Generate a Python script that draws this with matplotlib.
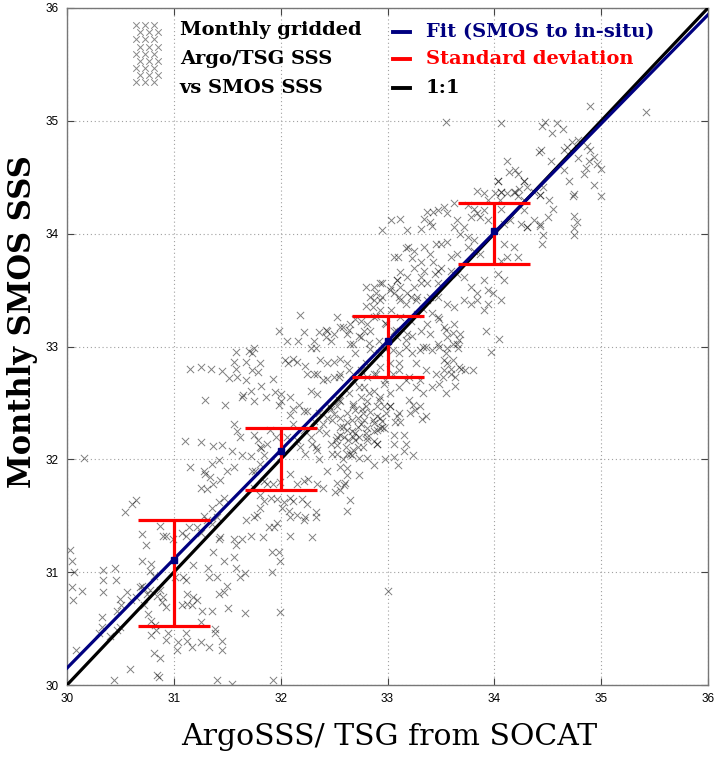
import numpy as np
import matplotlib
matplotlib.use("Agg")
import matplotlib.pyplot as plt

# scatter points (in-situ SSS, SMOS SSS), grouped by region
pts_low = [
    (30.03, 31.2), (30.05, 31.1), (30.07, 31.0), (30.05, 30.87), (30.06, 30.75),
    (30.14, 30.83), (30.08, 30.31), (30.34, 31.02), (30.45, 31.04), (30.34, 30.93), (30.46, 30.93), (30.34, 30.82),
    (30.5, 30.76), (30.51, 30.71), (30.47, 30.66), (30.33, 30.6), (30.33, 30.51), (30.3, 30.46), (30.4, 30.43),
    (30.47, 30.49), (30.5, 30.51), (30.56, 30.82), (30.6, 30.75), (30.65, 30.78), (30.68, 30.87), (30.7, 30.88),
    (30.72, 30.85), (30.54, 31.53), (30.61, 31.6), (30.65, 31.64), (30.7, 31.34), (30.74, 31.24),
    (30.7, 31.1), (30.79, 31.07), (30.78, 31.01), (30.81, 30.97), (30.72, 30.71), (30.76, 30.63), (30.79, 30.57),
    (30.82, 30.53), (30.75, 30.81), (30.78, 30.84), (30.84, 30.79), (30.87, 30.84), (30.9, 30.78), (30.89, 30.74),
    (30.93, 30.69), (30.59, 30.14), (30.84, 30.09), (30.86, 30.07), (30.44, 30.04), (30.81, 30.28), (30.87, 30.24),
    (30.79, 30.44), (30.83, 30.49), (30.93, 30.4), (30.95, 30.46), (30.87, 31.41), (30.9, 31.32), (30.93, 31.32),
    (30.99, 31.29), (31.08, 31.35), (31.11, 31.32), (31.14, 31.4), (31.22, 31.4), (31.25, 31.35),
    (31.1, 32.16), (31.25, 32.15), (31.37, 32.12), (31.45, 32.13), (31.15, 31.93), (31.28, 31.9), (31.29, 31.87),
    (31.34, 31.84), (31.25, 31.75), (31.31, 31.74), (31.37, 31.78), (31.43, 31.82), (31.36, 31.96), (31.42, 31.99),
    (31.5, 31.9), (31.56, 31.93), (31.47, 31.66), (31.42, 31.62), (31.36, 31.57), (31.28, 31.5), (31.31, 31.46),
    (31.36, 31.43), (31.4, 31.49), (31.43, 31.31), (31.42, 31.29), (31.56, 31.29), (31.58, 31.24), (31.64, 31.29),
    (31.18, 31.06), (31.32, 31.04), (31.4, 30.96), (31.33, 30.96), (31.37, 31.18), (31.47, 31.1), (31.56, 31.13),
    (31.58, 31.04), (31.67, 30.99), (31.62, 30.96), (31.09, 30.96), (31.11, 30.93), (31.01, 30.96),
    (31.12, 30.81), (31.18, 30.78), (31.22, 30.75), (31.17, 30.71), (31.12, 30.72), (31.08, 30.71),
    (31.26, 30.66), (31.36, 30.66), (31.25, 30.56), (31.39, 30.5), (31.42, 30.81), (31.47, 30.82), (31.5, 30.88),
    (31.51, 30.68), (31.67, 30.64), (31.11, 30.46), (31.12, 30.39), (31.04, 30.38), (31.03, 30.31), (31.17, 30.34),
    (31.25, 30.38), (31.33, 30.34), (31.45, 30.39), (31.45, 30.31), (31.39, 30.46),
    (31.4, 30.04), (31.54, 30.01), (31.93, 30.04), (31.99, 30.65),
    (31.92, 31.0), (31.99, 31.1), (31.98, 31.18), (31.92, 31.18), (31.75, 31.49), (31.78, 31.51), (31.83, 31.31),
    (31.94, 31.4), (31.97, 31.44), (31.89, 31.4), (31.72, 31.32), (31.68, 31.46), (31.81, 31.57), (31.91, 31.66),
    (31.84, 31.63), (31.81, 31.68), (32.09, 31.32), (32.09, 31.49), (32.15, 31.51), (32.23, 31.49), (32.29, 31.31),
    (32.22, 31.46), (32.2, 31.65), (32.25, 31.6), (32.33, 31.53), (32.33, 31.49), (31.97, 31.65), (32.03, 31.62),
    (32.09, 31.66), (32.12, 31.63), (32.01, 31.57), (32.08, 31.54),
    (31.73, 31.9), (31.76, 31.9), (31.81, 31.96), (31.87, 31.78), (31.75, 31.75), (31.84, 31.81), (31.93, 31.78),
    (31.99, 31.8), (32.09, 31.87), (32.15, 31.78), (32.22, 31.81), (32.26, 31.83), (32.34, 31.78), (32.4, 31.75),
    (32.43, 31.9), (30.16, 32.01),
]

pts_mid = [
    (31.98, 33.14), (31.58, 32.95), (31.7, 32.96), (31.75, 32.99), (31.73, 32.94),
    (32.04, 32.88), (32.12, 32.89), (32.07, 32.85), (32.15, 32.86), (32.23, 32.83), (32.25, 32.76), (32.31, 32.76),
    (32.34, 32.76), (32.37, 32.88), (32.43, 32.85), (32.5, 32.86), (32.56, 32.89), (32.62, 32.85),
    (32.84, 32.98), (32.97, 32.99), (32.33, 32.99), (32.28, 32.99),
    (31.56, 32.86), (31.68, 32.86), (31.81, 32.85), (31.73, 32.79), (31.79, 32.77), (31.58, 32.8), (31.59, 32.73),
    (31.52, 32.72), (31.68, 32.7), (31.82, 32.65), (31.72, 32.61), (31.65, 32.57), (31.64, 32.55), (31.75, 32.52),
    (31.86, 32.55), (31.93, 32.71), (31.95, 32.6), (32.0, 32.58), (32.0, 32.52), (31.98, 32.48),
    (32.09, 32.55), (32.17, 32.48), (32.12, 32.45), (32.22, 32.43), (32.28, 32.61), (32.34, 32.58), (32.4, 32.7),
    (32.43, 32.71), (32.5, 32.73), (32.56, 32.76), (32.68, 32.7), (32.75, 32.79), (32.81, 32.73), (32.87, 32.76),
    (32.93, 32.82), (31.56, 32.31), (31.59, 32.25), (31.62, 32.2), (31.75, 32.22), (31.79, 32.17), (31.81, 32.11),
    (31.9, 32.26), (31.87, 32.14), (31.96, 32.2), (31.54, 32.07), (31.64, 32.04), (31.72, 32.03), (31.84, 32.04),
    (31.82, 32.1), (32.09, 32.39), (32.12, 32.31), (32.06, 32.2), (32.15, 32.17), (32.18, 32.11), (32.22, 32.26),
    (32.28, 32.2), (32.29, 32.14), (32.34, 32.08), (32.36, 32.26),
    (32.5, 32.4), (32.56, 32.37), (32.62, 32.33), (32.67, 32.25), (32.72, 32.37), (32.75, 32.31), (32.81, 32.28),
    (32.87, 32.25), (32.93, 32.37), (32.97, 32.28), (32.9, 32.14), (32.81, 32.17), (32.68, 32.2), (32.72, 32.11),
    (32.56, 32.22), (32.47, 32.14), (32.62, 32.05), (32.53, 32.05), (32.4, 32.31),
    (32.81, 32.52), (32.87, 32.61), (32.93, 32.55), (32.75, 32.55), (32.68, 32.49), (32.78, 32.64), (32.97, 32.67),
    (32.9, 32.47), (32.97, 32.47), (32.47, 32.45), (32.56, 32.52), (32.43, 32.37), (32.31, 32.34), (32.25, 32.43),
    (32.95, 34.03), (32.87, 33.53), (32.93, 33.56), (32.84, 33.44), (32.93, 33.41), (32.93, 33.32), (32.87, 33.26),
    (32.99, 33.2), (32.53, 33.26), (32.43, 33.14), (32.36, 33.13), (32.42, 33.08), (32.56, 33.17), (32.62, 33.11),
    (32.65, 33.02), (32.75, 33.08), (32.78, 33.14), (32.81, 33.2), (32.18, 33.28), (32.22, 33.13), (32.16, 33.05),
    (32.31, 33.05), (32.47, 33.05), (32.06, 33.05), (32.42, 33.15), (32.5, 33.11), (32.58, 33.17), (32.65, 33.2),
    (32.75, 33.23), (32.84, 33.14), (32.92, 33.05), (32.68, 33.02), (32.87, 33.41), (32.95, 33.44), (32.86, 33.35),
    (31.15, 32.8), (31.25, 32.82), (31.35, 32.8), (31.45, 32.78), (31.29, 32.53), (31.48, 32.48),
]

pts_core = [
    # x 32.5-34, y 31-32.5
    (32.53, 32.47), (32.62, 32.41), (32.68, 32.47), (32.7, 32.44), (32.76, 32.45), (32.8, 32.47), (32.84, 32.42),
    (32.9, 32.38), (32.95, 32.34), (32.93, 32.28), (32.87, 32.32), (32.78, 32.35), (32.72, 32.29), (32.7, 32.23),
    (32.62, 32.26), (32.56, 32.29), (32.53, 32.2), (32.59, 32.2), (32.53, 32.13), (32.63, 32.17), (32.73, 32.2),
    (32.81, 32.2), (32.87, 32.16), (32.9, 32.14), (32.77, 32.11), (32.68, 32.08), (32.65, 32.05), (32.9, 32.26),
    (32.99, 32.41), (33.02, 32.47), (33.09, 32.38), (33.12, 32.33), (33.07, 32.33),
    (33.21, 32.41), (33.26, 32.44), (33.32, 32.36), (33.24, 32.48), (33.06, 32.22), (33.15, 32.22), (33.06, 32.14),
    (33.17, 32.14), (33.15, 32.07), (33.24, 32.04), (33.06, 32.02), (32.98, 32.0), (33.1, 31.95), (32.87, 31.95),
    (32.81, 32.01), (32.73, 32.01), (32.67, 32.04),
    (32.56, 31.93), (32.62, 31.92), (32.62, 31.86), (32.73, 31.86), (32.6, 31.79), (32.56, 31.73), (32.51, 31.71),
    (32.53, 31.79), (32.65, 31.64), (32.62, 31.54), (32.59, 31.77), (33.0, 30.83),
    # x 33-33.8, y 32.4-33
    (33.05, 32.97), (33.11, 32.94), (33.17, 33.0), (33.23, 32.94), (33.3, 32.97), (33.36, 33.0), (33.42, 32.97),
    (33.48, 33.0), (33.55, 32.94), (33.61, 32.88), (33.67, 32.82), (33.73, 32.79), (33.52, 32.73), (33.45, 32.76),
    (33.36, 32.79), (33.27, 32.85), (33.11, 32.85), (33.05, 32.76), (33.17, 32.7), (33.27, 32.64), (33.33, 32.59),
    (33.42, 32.64), (33.48, 32.67), (33.55, 32.59), (33.11, 32.64), (33.02, 32.59), (33.2, 32.53), (33.3, 32.47),
    (33.36, 32.38),
    (33.53, 32.88), (33.59, 32.8), (33.63, 32.73), (33.69, 32.8), (33.8, 32.79), (33.53, 32.79), (33.59, 32.76),
    (33.63, 32.65), (33.56, 32.85), (33.66, 32.99), (33.56, 32.99), (33.61, 33.02), (33.97, 32.95),
]

pts_band = [
    # extra points along the dense diagonal band, x 32.2-33.7
    (32.8, 33.53), (32.89, 33.47), (32.95, 33.56), (33.02, 33.5), (33.11, 33.44), (33.17, 33.38), (33.27, 33.41),
    (33.33, 33.33), (33.42, 33.3), (33.48, 33.24), (33.55, 33.15), (33.61, 33.12), (33.67, 33.06),
    (32.8, 33.36), (32.89, 33.27), (32.98, 33.21), (33.08, 33.15), (33.17, 33.06), (33.23, 33.09), (33.33, 33.0),
    (32.7, 33.24), (32.64, 33.15), (32.73, 33.09), (32.83, 33.03), (32.92, 32.94), (33.02, 32.85), (33.11, 32.79),
    (33.2, 32.73), (33.3, 32.7), (32.7, 32.94), (32.8, 32.85), (32.89, 32.76), (32.98, 32.7), (32.64, 32.79),
    (32.55, 32.73), (32.73, 32.64), (32.83, 32.59), (32.92, 32.53), (33.02, 32.47), (33.11, 32.41), (32.64, 32.59),
    (32.55, 32.53), (32.45, 32.47), (32.36, 32.41), (32.48, 32.35), (32.58, 32.29), (32.67, 32.35), (32.77, 32.41),
    (32.86, 32.35), (32.95, 32.29), (32.42, 32.23), (32.52, 32.17), (32.61, 32.11), (32.7, 32.17), (32.8, 32.23),
    (32.33, 32.11), (32.23, 32.05), (32.36, 32.0), (32.48, 32.05), (32.58, 32.0),
]

pts_high = [
    # x 33-34.5, y 33-34.5
    (34.03, 34.47), (34.28, 34.47), (34.01, 34.36), (34.06, 34.37), (34.12, 34.36), (34.18, 34.37), (34.22, 34.33),
    (34.31, 34.41), (34.37, 34.37), (34.43, 34.34), (34.46, 34.41), (34.28, 34.3),
    (33.62, 34.27), (33.75, 34.25), (33.81, 34.22), (33.84, 34.18), (33.9, 34.21), (33.78, 34.15), (33.94, 34.12),
    (33.87, 34.15), (33.84, 34.38), (33.9, 34.36), (33.94, 34.3),
    (33.03, 34.12), (33.12, 34.13), (33.18, 34.03), (33.31, 34.04), (33.34, 34.13), (33.4, 34.1), (33.47, 34.21),
    (33.53, 34.24), (33.56, 34.18), (33.65, 34.12), (33.62, 34.06), (33.72, 34.06), (33.68, 34.0), (33.75, 33.97),
    (33.81, 33.94), (33.37, 34.19), (33.43, 34.19), (33.42, 34.07),
    (34.09, 34.09), (34.15, 34.12), (34.25, 34.09), (34.31, 34.06), (34.37, 34.12), (34.43, 34.09), (34.46, 33.99),
    (34.45, 33.91), (34.09, 33.91), (34.18, 33.88), (34.22, 33.79), (34.12, 33.79), (34.06, 33.76),
    (33.1, 33.79), (33.19, 33.88), (33.25, 33.85), (33.34, 33.88), (33.4, 33.82), (33.5, 33.91), (33.56, 33.93),
    (33.59, 33.79), (33.65, 33.82), (33.75, 33.88), (33.81, 33.85), (33.87, 33.82),
    (33.06, 33.79), (33.17, 33.87), (33.23, 33.78), (33.31, 33.75), (33.45, 33.91), (33.43, 33.75), (33.47, 33.67),
    (33.12, 33.66), (33.25, 33.7), (33.34, 33.67), (33.44, 33.64), (33.5, 33.7), (33.59, 33.67), (33.65, 33.64),
    (33.47, 33.56), (33.37, 33.56), (33.31, 33.62), (33.18, 33.62), (33.09, 33.59),
    (33.72, 33.62), (33.78, 33.53), (33.84, 33.47), (33.9, 33.59), (33.94, 33.5), (34.03, 33.64), (34.09, 33.59),
    (34.06, 33.41), (33.99, 33.47), (33.94, 33.38), (33.9, 33.32),
    (33.03, 33.53), (33.06, 33.47), (33.12, 33.41), (33.18, 33.47), (33.28, 33.44), (33.37, 33.41), (33.47, 33.44),
    (33.56, 33.38), (33.62, 33.35), (33.72, 33.41), (33.78, 33.38), (33.84, 33.41),
    (33.03, 33.32), (33.12, 33.26), (33.22, 33.23), (33.28, 33.29), (33.37, 33.2), (33.47, 33.26), (33.53, 33.17),
    (33.62, 33.2), (33.68, 33.11), (33.56, 33.08), (33.4, 33.11), (33.31, 33.14), (33.18, 33.11), (33.06, 33.14),
    (33.09, 33.08), (33.47, 33.02), (33.65, 33.02), (33.92, 33.14), (34.04, 33.07),
    (33.09, 33.59), (33.12, 33.53), (33.25, 33.53), (33.31, 33.56), (33.4, 33.44), (33.22, 33.44), (34.75, 33.99),
]

pts_top = [
    # x 34-36, y 34-36
    (34.9, 35.13), (35.42, 35.08), (34.06, 34.98), (33.55, 34.99),
    (34.47, 34.99), (34.45, 34.95), (34.54, 34.89), (34.64, 34.93), (34.59, 34.98),
    (34.73, 34.81), (34.68, 34.77), (34.65, 34.74), (34.78, 34.83),
    (34.87, 34.78), (34.9, 34.74), (34.93, 34.68), (34.89, 34.64), (34.96, 34.62), (35.0, 34.57), (34.86, 34.58),
    (34.42, 34.72), (34.44, 34.74), (34.53, 34.64), (34.12, 34.64), (34.14, 34.55), (34.19, 34.56), (34.28, 34.47),
    (34.22, 34.53), (34.65, 34.56), (34.7, 34.47), (34.78, 34.67), (34.84, 34.53),
    (34.03, 34.47), (34.06, 34.37), (34.19, 34.37), (34.23, 34.4), (34.43, 34.34), (34.51, 34.3), (34.75, 34.35),
    (34.74, 34.33), (34.93, 34.43), (35.0, 34.33),
    (34.55, 34.22), (34.5, 34.15), (34.75, 34.16), (34.77, 34.1), (34.75, 34.05), (34.43, 34.07), (34.31, 34.06),
    (34.06, 34.22), (34.05, 34.3), (34.28, 34.21),
]

# fitted line end points and fit values at the bin centres
fit_x = [30, 36]
fit_y = [30.15, 35.94]
bin_x = [31, 32, 33, 34]
bin_fit = [31.11, 32.07, 33.05, 34.02]
# bin mean and standard deviation (red bars)
bin_mean = [30.99, 32.005, 33.0, 34.0]
bin_sd = [0.47, 0.275, 0.27, 0.27]

ticks = [30, 31, 32, 33, 34, 35, 36]

pts = np.array(pts_low + pts_mid + pts_core + pts_band + pts_high + pts_top)

fig = plt.figure(figsize=(7.15, 7.6), dpi=100)
ax = fig.add_axes([67 / 715, 1 - 685 / 760, 641 / 715, 677 / 760])

ax.scatter(pts[:, 0], pts[:, 1], marker="x", s=27, c="k", alpha=0.5, linewidths=0.7, zorder=2)

ax.plot([30, 36], [30, 36], color="black", lw=2.3, zorder=3)
ax.plot(fit_x, fit_y, color="#000080", lw=2.3, zorder=3)
ax.errorbar(bin_x, bin_mean, yerr=bin_sd, fmt="none", ecolor="#ff0000", elinewidth=2.3,
            capsize=26, capthick=2.3, zorder=4)
ax.plot(bin_x, bin_fit, "s", color="#000080", ms=5, zorder=5)

ax.set_xlim(30, 36)
ax.set_ylim(30, 36)
ax.set_xticks(ticks)
ax.set_yticks(ticks)
ax.grid(True, color="#a0a0a0", linestyle=(0, (1, 2.5)), lw=0.8)
ax.tick_params(direction="in", top=True, right=True, length=5, width=0.8, color="#444444",
               labelsize=8.5, pad=6)
for lab in ax.get_xticklabels() + ax.get_yticklabels():
    lab.set_family("Liberation Sans")
for sp in ax.spines.values():
    sp.set_color("#777777")
    sp.set_linewidth(1.0)

# axis titles
fig.text(389 / 715, 1 - 737 / 760, "ArgoSSS/ TSG from SOCAT", family="DejaVu Serif",
         fontsize=21.5, ha="center", va="center")
fig.text(23 / 715, 1 - 322 / 760, "Monthly SMOS SSS", family="DejaVu Serif", fontsize=22,
         weight="bold", rotation=90, ha="center", va="center")

# legend: pile of crosses + text on the left
for i, yy in enumerate(np.linspace(0.975, 0.89, 9)):
    off = 0.006 if i % 2 else 0.0
    for xx in (0.108, 0.122, 0.136):
        ax.scatter(xx + off, yy, marker="x", s=22, c="#888888", linewidths=0.7,
                   transform=ax.transAxes, zorder=6)
for line, yy in zip(["Monthly gridded", "Argo/TSG SSS", "vs SMOS SSS"], [0.9675, 0.9247, 0.8818]):
    ax.text(0.176, yy, line, transform=ax.transAxes, family="DejaVu Serif", weight="bold",
            fontsize=14, va="center", ha="left")

# legend: line entries on the right
leg_rows = [("Fit (SMOS to in-situ)", "#000080"), ("Standard deviation", "#ff0000"), ("1:1", "black")]
for (label, col), yy in zip(leg_rows, [0.9645, 0.924, 0.8818]):
    ax.plot([0.509, 0.535], [yy, yy], color=col, lw=2.8, transform=ax.transAxes, zorder=6)
    ax.text(0.56, yy, label, color=col, transform=ax.transAxes, family="DejaVu Serif",
            weight="bold", fontsize=14, va="center", ha="left")

fig.savefig("out.png", dpi=100)
